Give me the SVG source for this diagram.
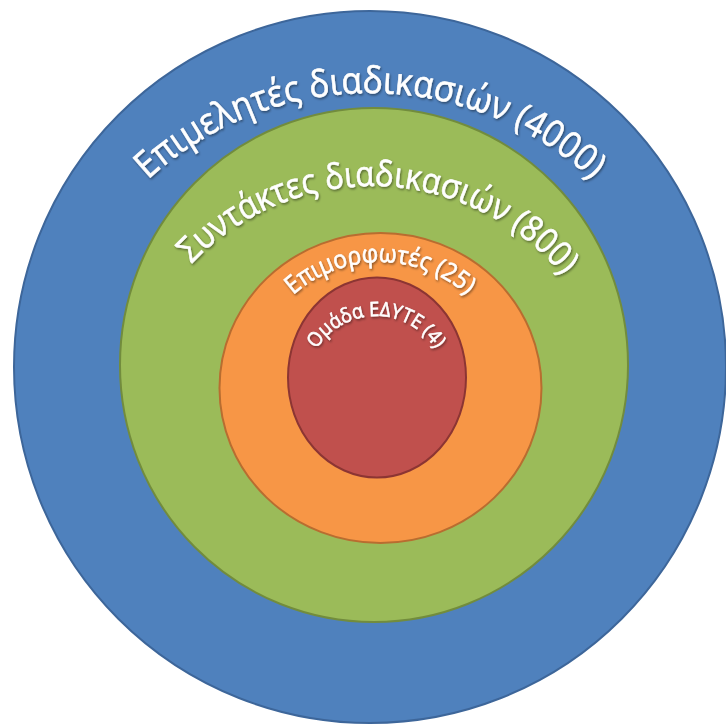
<svg xmlns="http://www.w3.org/2000/svg" width="726" height="725" viewBox="0 0 726 725">
<defs>
<style>
.lbl{fill:#ffffff;stroke:#ffffff;stroke-width:0.6;font-family:"Open Sans","Noto Sans","DejaVu Sans",sans-serif;filter:url(#sh)}
.ring{stroke-width:2}
</style>
<filter id="sh" x="-10%" y="-10%" width="120%" height="120%">
<feDropShadow dx="1" dy="1.5" stdDeviation="1" flood-color="#000000" flood-opacity="0.45"/>
</filter>
<path id="p1" d="M 43 420 A 327 327 0 0 1 697 420"/>
<path id="p2" d="M 124 434 A 248 248 0 0 1 620 434"/>
<path id="p3" d="M 249 393 A 131 131 0 0 1 511 393"/>
<path id="p4" d="M 306 386 A 70 70 0 0 1 446 386"/>
</defs>
<rect width="726" height="725" fill="#ffffff"/>
<g id="blue">
<circle class="ring" cx="370" cy="367" r="356" fill="#4f81bd" stroke="#3d669a"/>
<text class="lbl" font-size="37"><textPath href="#p1" startOffset="50%" text-anchor="middle" textLength="488" lengthAdjust="spacingAndGlyphs">Επιμελητές διαδικασιών (4000)</textPath></text>
</g>
<g id="green">
<ellipse class="ring" cx="374" cy="365" rx="254" ry="257" fill="#9bbb59" stroke="#728c3d"/>
<text class="lbl" font-size="35"><textPath href="#p2" startOffset="51%" text-anchor="middle" textLength="420" lengthAdjust="spacingAndGlyphs">Συντάκτες διαδικασιών  (800)</textPath></text>
</g>
<g id="orange">
<ellipse class="ring" cx="380.5" cy="388" rx="161" ry="155" fill="#f79646" stroke="#b86d30"/>
<text class="lbl" font-size="25"><textPath href="#p3" startOffset="50%" text-anchor="middle" textLength="190" lengthAdjust="spacingAndGlyphs">Επιμορφωτές (25)</textPath></text>
</g>
<g id="red">
<ellipse class="ring" cx="377" cy="377.5" rx="89" ry="100" fill="#c0504d" stroke="#8c3533"/>
<text class="lbl" font-size="20"><textPath href="#p4" startOffset="50%" text-anchor="middle" textLength="142" lengthAdjust="spacingAndGlyphs">Ομάδα ΕΔΥΤΕ (4)</textPath></text>
</g>
<g id="connectors"/>
</svg>
